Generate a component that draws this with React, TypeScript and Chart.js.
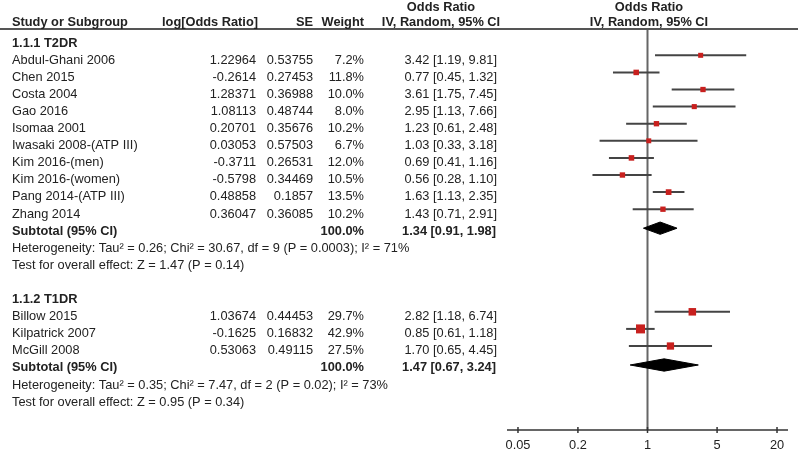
import React, { useEffect, useRef } from "react";
import { Chart, registerables } from "chart.js";
Chart.register(...registerables);

// ---- Data ----
const g1Title = "1.1.1 T2DR";
const g1Names = [
  "Abdul-Ghani 2006", "Chen 2015", "Costa 2004", "Gao 2016", "Isomaa 2001",
  "Iwasaki 2008-(ATP III)", "Kim 2016-(men)", "Kim 2016-(women)", "Pang 2014-(ATP III)", "Zhang 2014",
];
const g1LogOR = [1.22964, -0.2614, 1.28371, 1.08113, 0.20701, 0.03053, -0.3711, -0.5798, 0.48858, 0.36047];
const g1SE = [0.53755, 0.27453, 0.36988, 0.48744, 0.35676, 0.57503, 0.26531, 0.34469, 0.1857, 0.36085];
const g1Weight = [7.2, 11.8, 10.0, 8.0, 10.2, 6.7, 12.0, 10.5, 13.5, 10.2];
const g1OR = [3.42, 0.77, 3.61, 2.95, 1.23, 1.03, 0.69, 0.56, 1.63, 1.43];
const g1Lo = [1.19, 0.45, 1.75, 1.13, 0.61, 0.33, 0.41, 0.28, 1.13, 0.71];
const g1Hi = [9.81, 1.32, 7.45, 7.66, 2.48, 3.18, 1.16, 1.1, 2.35, 2.91];
const g1SubWeight = 100.0;
const g1Sub = [1.34, 0.91, 1.98];
const g1Het = "Heterogeneity: Tau\u00B2 = 0.26; Chi\u00B2 = 30.67, df = 9 (P = 0.0003); I\u00B2 = 71%";
const g1Test = "Test for overall effect: Z = 1.47 (P = 0.14)";

const g2Title = "1.1.2 T1DR";
const g2Names = ["Billow 2015", "Kilpatrick 2007", "McGill 2008"];
const g2LogOR = [1.03674, -0.1625, 0.53063];
const g2SE = [0.44453, 0.16832, 0.49115];
const g2Weight = [29.7, 42.9, 27.5];
const g2OR = [2.82, 0.85, 1.7];
const g2Lo = [1.18, 0.61, 0.65];
const g2Hi = [6.74, 1.18, 4.45];
const g2SubWeight = 100.0;
const g2Sub = [1.47, 0.67, 3.24];
const g2Het = "Heterogeneity: Tau\u00B2 = 0.35; Chi\u00B2 = 7.47, df = 2 (P = 0.02); I\u00B2 = 73%";
const g2Test = "Test for overall effect: Z = 0.95 (P = 0.34)";

const axisTicks = [0.05, 0.2, 1, 5, 20];

// ---- Layout ----
const ROW0 = 43;
const ROWH = 17.1;
const TOP = 29;
const BOTTOM = 430;
const g1Start = 0;
const g2Start = 15;
const FONT = "'Liberation Sans', Arial, sans-serif";
const FS = 12.8;

export default function App() {
  const ref = useRef<HTMLCanvasElement>(null);
  useEffect(() => {
    const canvas = ref.current!;
    const xmin = 0.05 * Math.exp(-11 / 43.3);
    const xmax = 20 * Math.exp(11 / 43.3);
    const ymin = (TOP - ROW0) / ROWH;
    const ymax = (BOTTOM - ROW0) / ROWH;

    const studyOff = -0.28;
    const diaOff = -0.17;
    const diaH = 0.36;

    const groups = [
      { start: g1Start, names: g1Names, lor: g1LogOR, se: g1SE, w: g1Weight, or: g1OR, lo: g1Lo, hi: g1Hi, sw: g1SubWeight, sub: g1Sub, het: g1Het, test: g1Test, title: g1Title },
      { start: g2Start, names: g2Names, lor: g2LogOR, se: g2SE, w: g2Weight, or: g2OR, lo: g2Lo, hi: g2Hi, sw: g2SubWeight, sub: g2Sub, het: g2Het, test: g2Test, title: g2Title },
    ];

    const squarePts: any[] = [];
    const squareR: number[] = [];
    const datasets: any[] = [];
    groups.forEach((g) => {
      g.names.forEach((_, i) => {
        const r = g.start + 1 + i + studyOff;
        squarePts.push({ x: g.or[i], y: r });
        const side = 4.2 + 0.112 * g.w[i];
        squareR.push(side / (2 * Math.SQRT1_2));
        datasets.push({
          type: "line",
          data: [{ x: g.lo[i], y: r }, { x: g.hi[i], y: r }],
          borderColor: "#444",
          borderWidth: 2,
          pointRadius: 0,
          showLine: true,
          order: 2,
        });
      });
      const rs = g.start + 1 + g.names.length + diaOff;
      datasets.push({
        type: "line",
        data: [
          { x: g.sub[1], y: rs },
          { x: g.sub[0], y: rs - diaH },
          { x: g.sub[2], y: rs },
          { x: g.sub[0], y: rs + diaH },
          { x: g.sub[1], y: rs },
        ],
        borderColor: "#000",
        backgroundColor: "#000",
        borderWidth: 1,
        pointRadius: 0,
        showLine: true,
        fill: "shape",
        order: 1,
      });
    });
    datasets.unshift({
      type: "scatter",
      data: squarePts,
      pointStyle: "rect",
      pointRadius: squareR,
      backgroundColor: "#c8201e",
      borderWidth: 0,
      order: 0,
    });
    datasets.push({
      type: "line",
      data: [{ x: 1, y: ymin }, { x: 1, y: ymax }],
      borderColor: "#666",
      borderWidth: 2,
      pointRadius: 0,
      showLine: true,
      order: 5,
    });

    const textPlugin = {
      id: "forestText",
      afterDraw(chart: any) {
        const ctx = chart.ctx as CanvasRenderingContext2D;
        const xs = chart.scales.x;
        const ys = chart.scales.y;
        const ca = chart.chartArea;
        ctx.save();
        // header line
        ctx.strokeStyle = "#555";
        ctx.lineWidth = 2;
        ctx.beginPath();
        ctx.moveTo(0, TOP);
        ctx.lineTo(798, TOP);
        ctx.stroke();

        const txt = (s: string, x: number, y: number, align: CanvasTextAlign, bold = false) => {
          ctx.font = `${bold ? "bold " : ""}${FS}px ${FONT}`;
          ctx.textAlign = align;
          ctx.textBaseline = "middle";
          ctx.fillStyle = "#222";
          ctx.fillText(s, x, y);
        };
        // headers
        txt("Odds Ratio", 441, 7, "center", true);
        txt("Odds Ratio", 649, 7, "center", true);
        txt("Study or Subgroup", 12, 22, "left", true);
        txt("log[Odds Ratio]", 258, 22, "right", true);
        txt("SE", 313, 22, "right", true);
        txt("Weight", 364, 22, "right", true);
        txt("IV, Random, 95% CI", 441, 22, "center", true);
        txt("IV, Random, 95% CI", 649, 22, "center", true);

        const yr = (r: number) => ys.getPixelForValue(r);
        groups.forEach((g) => {
          txt(g.title, 12, yr(g.start), "left", true);
          g.names.forEach((n, i) => {
            const y = yr(g.start + 1 + i);
            txt(n, 12, y, "left");
            txt(String(g.lor[i]), 256, y, "right");
            txt(String(g.se[i]), 313, y, "right");
            txt(g.w[i].toFixed(1) + "%", 364, y, "right");
            txt(`${g.or[i].toFixed(2)} [${g.lo[i].toFixed(2)}, ${g.hi[i].toFixed(2)}]`, 497, y, "right");
          });
          const rs = g.start + 1 + g.names.length;
          txt("Subtotal (95% CI)", 12, yr(rs), "left", true);
          txt(g.sw.toFixed(1) + "%", 364, yr(rs), "right", true);
          txt(`${g.sub[0].toFixed(2)} [${g.sub[1].toFixed(2)}, ${g.sub[2].toFixed(2)}]`, 496, yr(rs), "right", true);
          txt(g.het, 12, yr(rs + 1), "left");
          txt(g.test, 12, yr(rs + 2), "left");
        });

        // x axis
        const ay = ca.bottom;
        ctx.strokeStyle = "#333";
        ctx.lineWidth = 1.5;
        ctx.beginPath();
        ctx.moveTo(xs.getPixelForValue(xmin), ay);
        ctx.lineTo(xs.getPixelForValue(xmax), ay);
        ctx.stroke();
        axisTicks.forEach((t) => {
          const px = xs.getPixelForValue(t);
          ctx.beginPath();
          ctx.moveTo(px, ay - 3);
          ctx.lineTo(px, ay + 3);
          ctx.stroke();
          txt(String(t), px, ay + 15, "center");
        });
        ctx.restore();
      },
    };

    const chart = new Chart(canvas, {
      type: "scatter",
      data: { datasets },
      options: {
        animation: false,
        responsive: false,
        layout: { padding: { left: 507, right: 12, top: TOP, bottom: 451 - BOTTOM } },
        plugins: { legend: { display: false }, tooltip: { enabled: false } },
        scales: {
          x: { type: "logarithmic", min: xmin, max: xmax, display: false },
          y: { type: "linear", min: ymin, max: ymax, reverse: true, display: false },
        },
      },
      plugins: [textPlugin],
    } as any);
    return () => chart.destroy();
  }, []);
  return (
    <canvas
      ref={ref}
      width={800}
      height={451}
      style={{ position: "fixed", left: 0, top: 0, width: 800, height: 451, background: "#fff" }}
    />
  );
}
